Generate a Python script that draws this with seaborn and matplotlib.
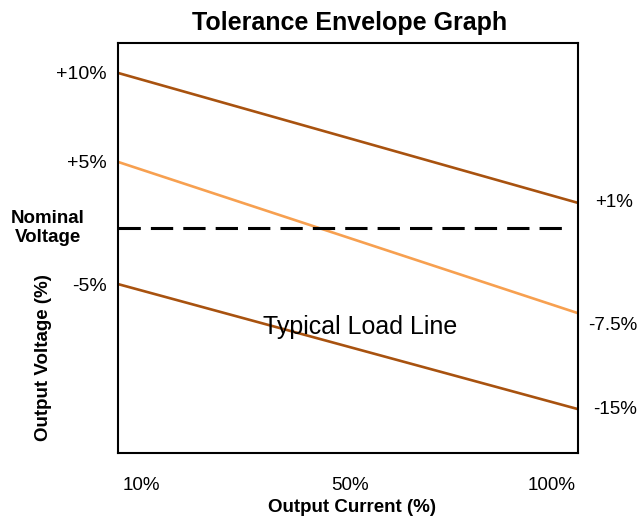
import pandas as pd
import matplotlib.pyplot as plt
import seaborn as sns

# schematic chart: x runs 0..100 across the box, y is a 0..100 position scale
x_current = [0, 100]
upper_limit = [92.7, 61.0]
load_line = [71.0, 34.1]
lower_limit = [41.2, 10.7]
nominal_level = 54.9

x_tick_pos = [5.0, 50.4, 94.3]
x_tick_labels = ["10%", "50%", "100%"]
left_labels = ["+10%", "+5%", "-5%"]
right_labels = ["+1%", "-7.5%", "-15%"]

brown = "#a8520f"
orange = "#f7a050"

sns.set_theme(style="white")
plt.rcParams["font.family"] = ["Liberation Sans", "DejaVu Sans"]
plt.rcParams["text.color"] = "black"
plt.rcParams["xtick.color"] = "black"
plt.rcParams["ytick.color"] = "black"

df = pd.DataFrame({
    "current": x_current * 3,
    "voltage": upper_limit + load_line + lower_limit,
    "series": ["upper"] * 2 + ["load"] * 2 + ["lower"] * 2,
})

fig = plt.figure(figsize=(6.42, 5.29), dpi=100)
ax = fig.add_axes([118 / 642, 1 - 453 / 529, 460 / 642, 410 / 529])

sns.lineplot(data=df, x="current", y="voltage", hue="series",
             palette={"upper": brown, "load": orange, "lower": brown},
             linewidth=1.9, legend=False, ax=ax)
ax.axhline(nominal_level, xmin=0, xmax=0.98, color="black", linewidth=2.2,
           dashes=(7.3, 3.3))

ax.set_xlim(0, 100)
ax.set_ylim(0, 100)
for s in ax.spines.values():
    s.set_color("black")
    s.set_linewidth(1.5)

ax.set_xticks(x_tick_pos)
ax.set_xticklabels(x_tick_labels, fontsize=13.5)
ax.set_yticks([upper_limit[0], load_line[0], lower_limit[0]])
ax.set_yticklabels(left_labels, fontsize=14)
ax.tick_params(axis="x", length=0, pad=17)
ax.tick_params(axis="y", length=0, pad=8)
ax.set_xlabel("")
ax.set_ylabel("")

# right-hand labels
right_x = [103.7, 102.3, 103.2]
right_y = [upper_limit[1], load_line[1] - 3, lower_limit[1]]
for lab, xv, yv in zip(right_labels, right_x, right_y):
    ax.text(xv, yv, lab, fontsize=13.5, ha="left", va="center")

ax.text(52.6, 30.8, "Typical Load Line", fontsize=18, ha="center", va="center")

fig.text(48 / 642, 1 - 228 / 529, "Nominal\nVoltage", fontsize=13.5,
         fontweight="bold", ha="center", va="center", linespacing=1.2)
fig.text(350 / 642, 1 - 23 / 529, "Tolerance Envelope Graph", fontsize=18,
         fontweight="bold", ha="center", va="center")
fig.text(352 / 642, 1 - 508 / 529, "Output Current (%)", fontsize=13.5,
         fontweight="bold", ha="center", va="center")
fig.text(44 / 642, 1 - 358 / 529, "Output Voltage (%)", fontsize=13.5,
         fontweight="bold", ha="center", va="center", rotation=90)

fig.savefig("out.png", dpi=100)
